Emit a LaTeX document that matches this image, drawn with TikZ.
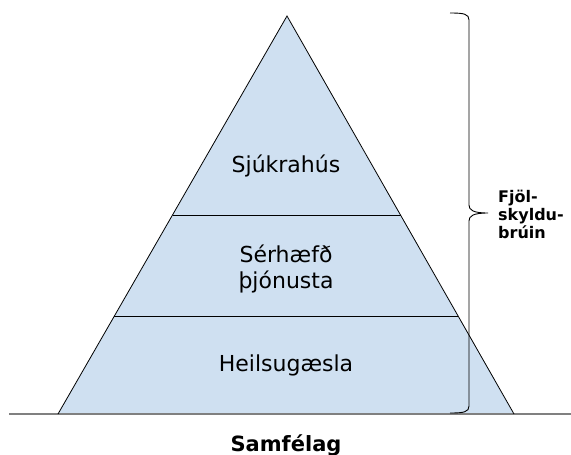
\documentclass[tikz,border=0pt]{standalone}
\usepackage{fontspec}
\setmainfont{DejaVu Sans}
\definecolor{pyrfill}{RGB}{207,224,241}
\definecolor{groundgray}{RGB}{128,128,128}
\begin{document}
\begin{tikzpicture}[x=1pt,y=-1pt,
  level/.style={font=\fontsize{22}{26}\selectfont, anchor=base, align=center, inner sep=0pt},
  bracelabel/.style={font=\fontsize{16}{18}\selectfont\bfseries, anchor=base west, align=left, inner sep=0pt},
  basename/.style={font=\fontsize{21}{25}\selectfont\bfseries, anchor=base, inner sep=0pt},
  edge/.style={draw=black, line width=0.8pt}]
\useasboundingbox (0,0) rectangle (571,455);
% pyramid
\coordinate (apex) at (287,16);
\coordinate (bl) at (58,414);
\coordinate (br) at (514,414);
\fill[pyrfill] (apex) -- (bl) -- (br) -- cycle;
% ground
\coordinate (g1) at (9,414);
\coordinate (g2) at (571,414);
\draw[groundgray, line width=1.4pt] (g1) -- (g2);
\draw[edge, line join=miter] (bl) -- (apex) -- (br);
% dividing lines
\path (apex) -- (bl) coordinate[pos=0.5] (d1l) coordinate[pos=0.7538] (d2l);
\path (apex) -- (br) coordinate[pos=0.5] (d1r) coordinate[pos=0.7538] (d2r);
\draw[edge] (d1l) -- (d1r);
\draw[edge] (d2l) -- (d2r);
% labels
\node[level] (top) at (286,172) {Sjúkrahús};
\node[level] (mid) at (286,288) {Sérhæfð\\ þjónusta};
\node[level] (low) at (286,371) {Heilsugæsla};
% brace
\coordinate (bt) at (450,13);
\coordinate (bb) at (450,413);
\coordinate (tip) at (488,213);
\draw[black, line width=0.9pt] (bt) .. controls (464,13) and (469,14) .. (469,20)
  -- (469,205) .. controls (469,210) and (473,213) .. (tip)
  .. controls (473,213) and (469,216) .. (469,221)
  -- (469,406) .. controls (469,412) and (464,413) .. (bb);
\node[bracelabel] (bl1) at (498,202) {Fjöl-};
\node[bracelabel] (bl2) at (498,220) {skyldu-};
\node[bracelabel] (bl3) at (498,238) {brúin};
\node[basename] (soc) at (286,451) {Samfélag};
\end{tikzpicture}
\end{document}
